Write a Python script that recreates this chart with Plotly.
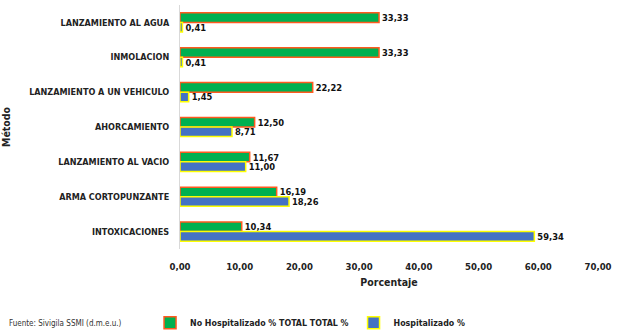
import plotly.graph_objects as go

categorias = ["LANZAMIENTO AL AGUA", "INMOLACION", "LANZAMIENTO A UN VEHICULO",
              "AHORCAMIENTO", "LANZAMIENTO AL VACIO", "ARMA CORTOPUNZANTE", "INTOXICACIONES"]
no_hospitalizado = [33.33, 33.33, 22.22, 12.50, 11.67, 16.19, 10.34]
hospitalizado = [0.41, 0.41, 1.45, 8.71, 11.00, 18.26, 59.34]
ticks_x = [0, 10, 20, 30, 40, 50, 60, 70]

FONT = "DejaVu Sans Condensed"

fig = go.Figure()
fig.add_trace(go.Bar(
    y=categorias, x=no_hospitalizado, orientation="h",
    name="No Hospitalizado % TOTAL TOTAL %",
    marker=dict(color="#00B050", line=dict(color="#FF5A1F", width=1.5)),
    texttemplate="%{x:.2f}", textposition="outside", cliponaxis=False,
    constraintext="none",
    textfont=dict(size=9.3, color="#111111", family=FONT, weight="bold"),
))
fig.add_trace(go.Bar(
    y=categorias, x=hospitalizado, orientation="h",
    name="Hospitalizado %",
    marker=dict(color="#4472C4", line=dict(color="#FFFF00", width=1.5)),
    texttemplate="%{x:.2f}", textposition="outside", cliponaxis=False,
    constraintext="none",
    textfont=dict(size=9.3, color="#111111", family=FONT, weight="bold"),
))

fig.update_layout(
    width=620, height=331,
    margin=dict(l=180, r=22, t=5, b=82, autoexpand=False),
    barmode="group", bargap=0.45, bargroupgap=0,
    separators=",.",
    paper_bgcolor="white", plot_bgcolor="white",
    font=dict(family=FONT, size=9.5, color="#222222"),
    showlegend=True,
    legend=dict(orientation="h", x=0.242, xref="container", y=0.025, yref="container",
                yanchor="middle", xanchor="left",
                font=dict(size=8.8, color="#222222", family=FONT, weight="bold"),
                itemwidth=30, tracegroupgap=0),
    annotations=[dict(text="Fuente: Sivigila SSMI (d.m.e.u.)", xref="paper", yref="paper",
                      x=-0.414, y=-0.305, xanchor="left", yanchor="middle", showarrow=False,
                      font=dict(size=8, color="#333333", family=FONT))],
)
fig.update_xaxes(range=[0, 70], tickvals=ticks_x, tickformat=".2f",
                 showgrid=False, zeroline=False, showline=False, automargin=False,
                 tickfont=dict(size=9.5, color="#222222", family=FONT, weight="bold"),
                 ticklabelstandoff=10,
                 title=dict(text="Porcentaje", font=dict(size=10.5, family=FONT, weight="bold"), standoff=8))
fig.update_yaxes(autorange="reversed", showgrid=False, showline=True, linecolor="#D9D9D9",
                 linewidth=1, ticks="", ticklabelstandoff=8, automargin=False,
                 tickfont=dict(size=9, color="#222222", family=FONT, weight="bold"),
                 title=dict(text="Método", font=dict(size=10.5, family=FONT, weight="bold"), standoff=16))

fig.write_html("out.html", config={"displayModeBar": False},
               post_script="document.body.style.margin='0';")
